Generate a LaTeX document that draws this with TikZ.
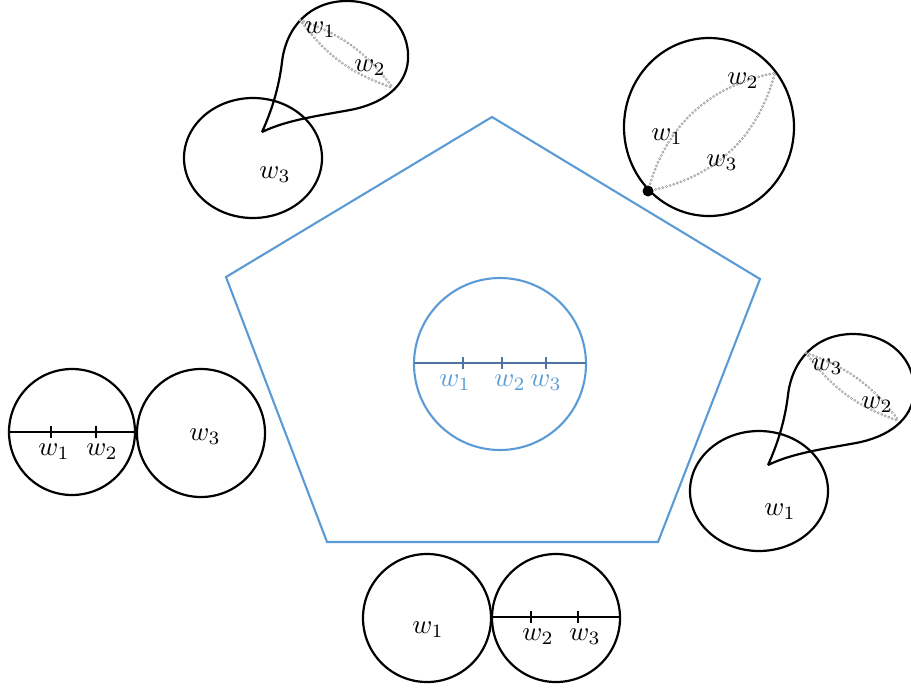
\documentclass[tikz,border=0pt]{standalone}
\definecolor{pblue}{RGB}{91,155,213}
\definecolor{pline}{RGB}{80,115,160}
\newcommand{\wlab}[1]{\scalebox{2.7}{$w_{#1}$}}
\begin{document}
\begin{tikzpicture}[x=1pt,y=-1pt,
  curve/.style={draw=black,line width=2.2pt},
  blueline/.style={draw=pblue,line width=2.1pt},
  dots/.style={draw=gray!75,line width=3pt,line cap=round,dash pattern=on 0pt off 3.8pt,
    postaction={draw=white,line width=0.9pt,line cap=round,dash pattern=on 0pt off 3.8pt}},
  lab/.style={inner sep=0pt},
  tickmark/.style={line width=1.4pt}]
\useasboundingbox (0,0) rectangle (911,689);

% pentagon
\draw[blueline,line join=miter] (492,117) -- (760,279) -- (658,542) -- (327,542) -- (226,277) -- cycle;

% central circle
\draw[blueline] (500,364) circle[radius=86];
\coordinate (cL) at (414,363);
\coordinate (cR) at (586,363);
\draw[draw=pline,line width=1.7pt] (cL) -- (cR);
\foreach \x in {463,502,546} \draw[draw=pline,tickmark] (\x,357) -- (\x,369);
\node[lab,text=pblue] (c1) at (455,383) {\wlab{1}};
\node[lab,text=pblue] (c2) at (510,383) {\wlab{2}};
\node[lab,text=pblue] (c3) at (546,383) {\wlab{3}};

% left pair
\draw[curve] (72,432) circle[radius=63];
\draw[curve] (201,433) circle[radius=64];
\coordinate (lL) at (9,432);
\coordinate (lR) at (137,432);
\draw[line width=1.7pt] (lL) -- (lR);
\foreach \x in {51,96} \draw[tickmark] (\x,426) -- (\x,438);
\node[lab] (l1) at (54,452) {\wlab{1}};
\node[lab] (l2) at (102,452) {\wlab{2}};
\node[lab] (l3) at (205,437) {\wlab{3}};

% bottom pair
\draw[curve] (427,618) circle[radius=64];
\draw[curve] (556,618) circle[radius=64];
\coordinate (bL) at (491,617);
\coordinate (bR) at (620,617);
\draw[line width=1.7pt] (bL) -- (bR);
\foreach \x in {531,578} \draw[tickmark] (\x,611) -- (\x,623);
\node[lab] (b1) at (428,630) {\wlab{1}};
\node[lab] (b2) at (538,637) {\wlab{2}};
\node[lab] (b3) at (585,637) {\wlab{3}};

% top-right ellipse
\draw[curve] (709,127) ellipse[x radius=85,y radius=89];
\coordinate (tD) at (648,191);
\coordinate (tE) at (775,73);
\draw[dots] (tD) to[bend left=32] (tE);
\draw[dots] (tD) to[bend right=32] (tE);
\fill (tD) circle[radius=5.5];
\node[lab] (t2) at (743,81) {\wlab{2}};
\node[lab] (t1) at (667,137) {\wlab{1}};
\node[lab] (t3) at (722,163) {\wlab{3}};

% pinched shape, top-left
\begin{scope}[shift={(262,132)}]
\draw[curve] (-9,26) ellipse[x radius=69,y radius=60];
\draw[curve,line join=miter] (0,0) .. controls (10,-22) and (17,-45) .. (20,-70)
  .. controls (24,-105) and (48,-131) .. (85,-131)
  .. controls (122,-131) and (148,-105) .. (146,-72)
  .. controls (144,-45) and (120,-28) .. (88,-22)
  .. controls (55,-16) and (25,-12) .. (0,0);
\coordinate (pA) at (38,-112);
\coordinate (pB) at (131,-44);
\draw[dots] (pA) to[bend left=17] (pB);
\draw[dots] (pA) to[bend right=17] (pB);
\node[lab] (p1) at (58,-102) {\wlab{1}};
\node[lab] (p2) at (108,-64) {\wlab{2}};
\node[lab] (p3) at (13,43) {\wlab{3}};
\end{scope}

% pinched shape, right
\begin{scope}[shift={(768,465)}]
\draw[curve] (-9,26) ellipse[x radius=69,y radius=60];
\draw[curve,line join=miter] (0,0) .. controls (10,-22) and (17,-45) .. (20,-70)
  .. controls (24,-105) and (48,-131) .. (85,-131)
  .. controls (122,-131) and (148,-105) .. (146,-72)
  .. controls (144,-45) and (120,-28) .. (88,-22)
  .. controls (55,-16) and (25,-12) .. (0,0);
\coordinate (qA) at (38,-112);
\coordinate (qB) at (131,-44);
\draw[dots] (qA) to[bend left=17] (qB);
\draw[dots] (qA) to[bend right=17] (qB);
\node[lab] (q3) at (59,-98) {\wlab{3}};
\node[lab] (q2) at (109,-60) {\wlab{2}};
\node[lab] (q1) at (12,47) {\wlab{1}};
\end{scope}
\end{tikzpicture}
\end{document}
